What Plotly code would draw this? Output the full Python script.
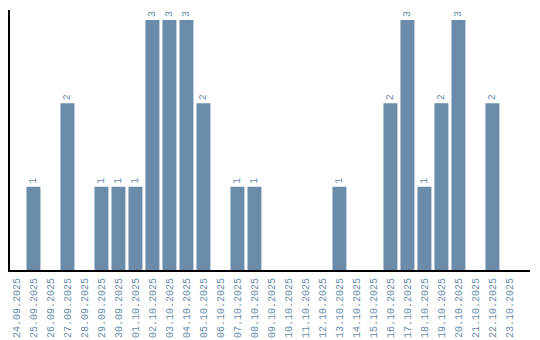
import plotly.graph_objects as go

dates = ["24.09.2025","25.09.2025","26.09.2025","27.09.2025","28.09.2025","29.09.2025",
         "30.09.2025","01.10.2025","02.10.2025","03.10.2025","04.10.2025","05.10.2025",
         "06.10.2025","07.10.2025","08.10.2025","09.10.2025","10.10.2025","11.10.2025",
         "12.10.2025","13.10.2025","14.10.2025","15.10.2025","16.10.2025","17.10.2025",
         "18.10.2025","19.10.2025","20.10.2025","21.10.2025","22.10.2025","23.10.2025"]
counts = [0,1,0,2,0,1,1,1,3,3,3,2,0,1,1,0,0,0,0,1,0,0,2,3,1,2,3,0,2,0]

color = "#6a8caa"
labels = [str(v) if v else "" for v in counts]
font_family = "Liberation Mono"

fig = go.Figure(go.Bar(
    x=dates, y=counts, marker_color=color, marker_line_width=0,
    text=labels, textposition="outside", textangle=-90,
    textfont=dict(family=font_family, size=10, color=color),
    cliponaxis=False,
))
fig.update_layout(
    width=540, height=340, margin=dict(l=10, r=10, t=10, b=70, autoexpand=False),
    paper_bgcolor="white", plot_bgcolor="white", bargap=0.18,
    showlegend=False, font=dict(family=font_family, size=10, color=color),
)
fig.update_xaxes(showline=True, linecolor="black", linewidth=2, tickangle=-90,
                 ticks="", showgrid=False, automargin=False, range=[-0.38, 30.21],
                 ticklabelstandoff=2, tickfont=dict(size=10, color=color))
fig.update_yaxes(showline=True, linecolor="black", linewidth=2, range=[0, 3.12],
                 showticklabels=False, ticks="", showgrid=False, zeroline=False,
                 automargin=False)
fig.write_html("out.html")
